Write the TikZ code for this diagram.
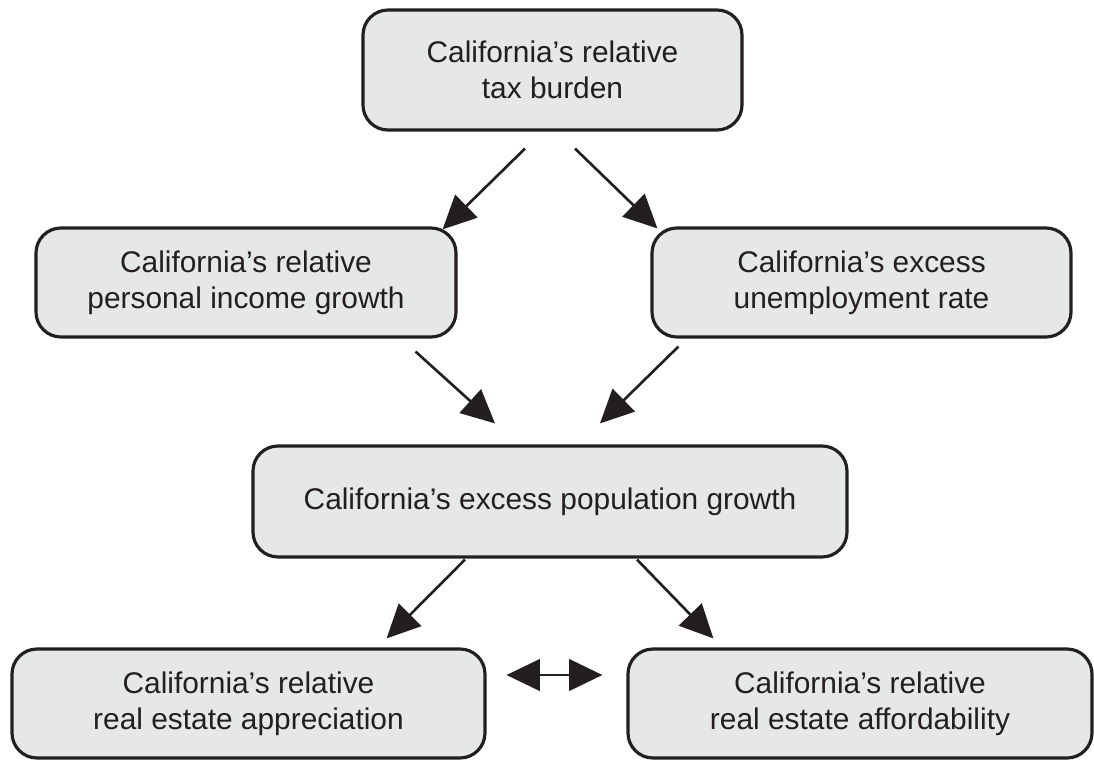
\documentclass[tikz,border=0pt]{standalone}
\usepackage{fontspec}
\setmainfont{Liberation Sans}
\usetikzlibrary{arrows.meta}
\definecolor{boxgray}{HTML}{E6E7E8}
\definecolor{ink}{HTML}{231F20}
\begin{document}
\begin{tikzpicture}[
  box/.style={draw=ink,fill=boxgray,line width=1.8pt,rounded corners=0.5cm,
    minimum height=2.18cm,align=center,inner sep=0pt,text=ink,
    font=\fontsize{17}{20.5}\selectfont},
  arr/.style={draw=ink,line width=1.5pt,-{Triangle[length=19pt,width=18pt]}},
  dbl/.style={draw=ink,line width=1.5pt,{Triangle[length=19pt,width=18pt]}-{Triangle[length=19pt,width=18pt]}}]
\useasboundingbox (0,0) rectangle (21.88,-15.24);
\node[box,minimum width=7.58cm,minimum height=2.4cm] (tax) at (11.05,-1.4) {California’s relative\\tax burden};
\node[box,minimum width=8.4cm] (pig) at (4.92,-5.65) {California’s relative\\personal income growth};
\node[box,minimum width=8.38cm] (unemp) at (17.23,-5.65) {California’s excess\\unemployment rate};
\node[box,minimum width=11.88cm,minimum height=2.22cm] (pop) at (11.0,-10.03) {California’s excess population growth};
\node[box,minimum width=9.46cm] (app) at (4.97,-14.07) {California’s relative\\real estate appreciation};
\node[box,minimum width=9.28cm] (aff) at (17.2,-14.07) {California’s relative\\real estate affordability};
\draw[arr] ([shift={(-0.55,-0.34)}]tax.south) -- ([shift={(-0.3,-0.06)}]pig.north east);
\draw[arr] ([shift={(0.45,-0.34)}]tax.south) -- ([shift={(0.14,-0.04)}]unemp.north west);
\draw[arr] ([shift={(-0.84,-0.26)}]pig.south east) -- ([shift={(-1.1,0.42)}]pop.north);
\draw[arr] ([shift={(0.56,-0.16)}]unemp.south west) -- ([shift={(1.0,0.42)}]pop.north);
\draw[arr] ([shift={(-1.7,-0.02)}]pop.south) -- ([shift={(-2.0,0.18)}]app.north east);
\draw[arr] ([shift={(1.74,-0.02)}]pop.south) -- ([shift={(1.74,0.18)}]aff.north west);
\draw[dbl] ([shift={(0.4,0.57)}]app.east) -- ([shift={(-0.48,0.57)}]aff.west);
\end{tikzpicture}
\end{document}
